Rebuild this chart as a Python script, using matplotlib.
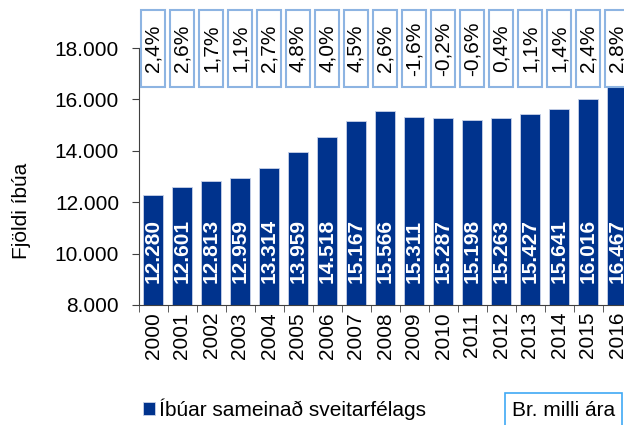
import matplotlib.pyplot as plt
from matplotlib.patches import Rectangle

plt.rcParams['font.family'] = ['Liberation Sans', 'DejaVu Sans']

years = ['2000', '2001', '2002', '2003', '2004', '2005', '2006', '2007', '2008',
         '2009', '2010', '2011', '2012', '2013', '2014', '2015', '2016']
residents = [12280, 12601, 12813, 12959, 13314, 13959, 14518, 15167, 15566,
             15311, 15287, 15198, 15263, 15427, 15641, 16016, 16467]
change_pct = ['2,4%', '2,6%', '1,7%', '1,1%', '2,7%', '4,8%', '4,0%', '4,5%', '2,6%',
              '-1,6%', '-0,2%', '-0,6%', '0,4%', '1,1%', '1,4%', '2,4%', '2,8%']

navy = '#00338D'
box_edge = '#8DB4E2'
fontsize = 15

fig = plt.figure(figsize=(6.24, 4.25), dpi=100)
# axes runs a little past the right edge, like the cropped original
ax = fig.add_axes([138.5 / 624, 120 / 425, 493 / 624, 257 / 425])

x = list(range(len(years)))
bars = ax.bar(x, residents, width=0.69, color=navy, edgecolor='#c8d2e8', linewidth=0.6,
              label='Íbúar sameinað sveitarfélags')

ax.set_xlim(-0.5, len(years) - 0.5)
ax.set_ylim(8000, 18000)
ax.set_yticks(range(8000, 18001, 2000))
ax.set_yticklabels([f'{v:,}'.replace(',', '.') for v in range(8000, 18001, 2000)],
                   fontsize=fontsize)

ax.set_xticks(x)
ax.set_xticklabels(years, rotation=90, fontsize=fontsize)
ax.set_xticks([i - 0.5 for i in range(len(years) + 1)], minor=True)
ax.tick_params(axis='x', which='major', length=0, pad=5)
ax.tick_params(axis='x', which='minor', length=5, color='#404040')
ax.tick_params(axis='y', length=5, color='#404040', pad=9)

for s in ['top', 'right']:
    ax.spines[s].set_visible(False)
for s in ['left', 'bottom']:
    ax.spines[s].set_color('#404040')

ax.set_ylabel('Fjöldi íbúa', fontsize=fontsize)
ax.yaxis.set_label_coords(-0.219, 0.366)

# values inside the bars
for i, v in enumerate(residents):
    ax.text(i, 8860, f'{v:,}'.replace(',', '.'), rotation=90, ha='center', va='bottom',
            color='white', fontweight='bold', fontsize=fontsize)

# yearly change in boxes along the top
for i, p in enumerate(change_pct):
    ax.add_patch(Rectangle((i - 0.4, 16480), 0.8, 3000, facecolor='white',
                           edgecolor=box_edge, linewidth=1.5, clip_on=False, zorder=3))
    ax.text(i, 17980, p, rotation=90, ha='center', va='center', fontsize=fontsize,
            zorder=4, clip_on=False)

fig.legend(handles=[bars], labels=['Íbúar sameinað sveitarfélags'], loc='center left',
           bbox_to_anchor=(124 / 624, 1 - 409 / 425), frameon=False, fontsize=fontsize,
           handlelength=0.6, handleheight=0.6, handletextpad=0.2)

fig.text(512 / 624, 1 - 410 / 425, 'Br. milli ára', fontsize=fontsize, va='center',
         bbox=dict(boxstyle='square,pad=0.35', facecolor='white', edgecolor='#3FA9F5',
                   linewidth=1.2))

plt.savefig('out.png', dpi=100)
